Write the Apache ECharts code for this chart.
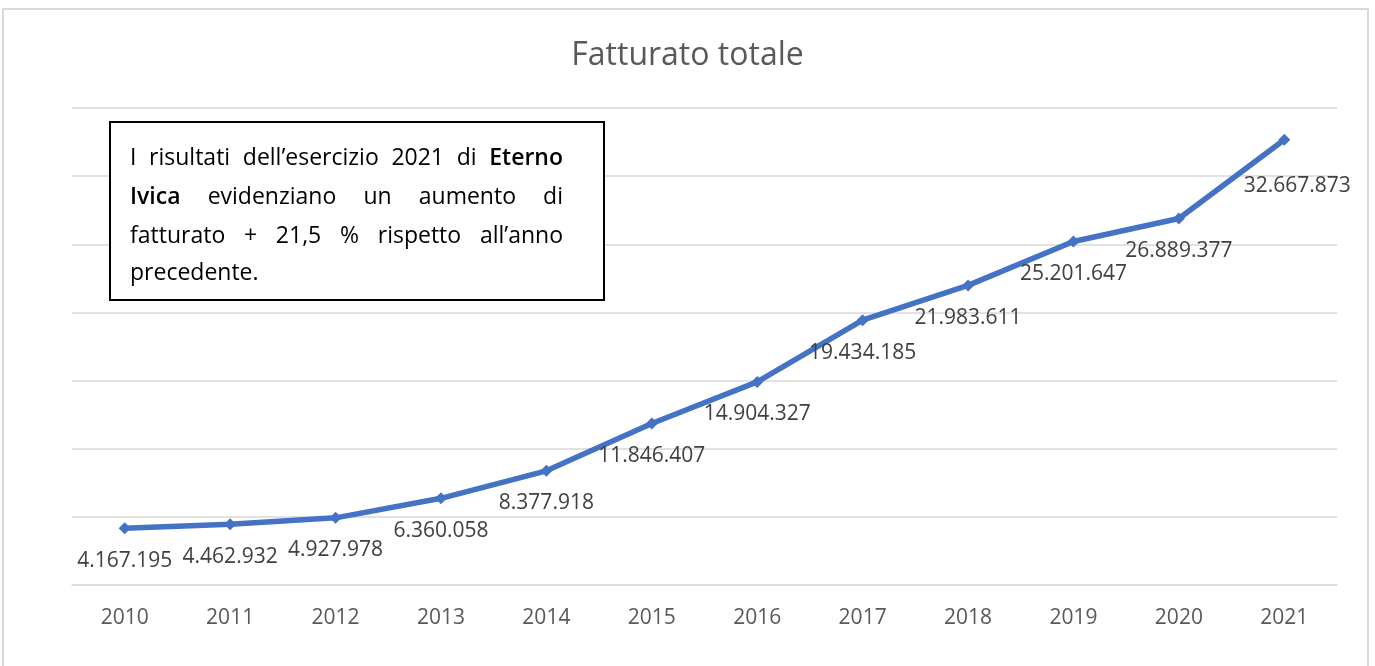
<!DOCTYPE html>
<html>
<head>
<meta charset="utf-8">
<script src="https://cdn.jsdelivr.net/npm/echarts@6/dist/echarts.min.js"></script>
<style>
html,body{margin:0;padding:0;background:#fff;}
#chart{width:1375px;height:666px;}
</style>
</head>
<body>
<div id="chart"></div>
<script>
const years = ['2010','2011','2012','2013','2014','2015','2016','2017','2018','2019','2020','2021'];
const revenue = [4167195, 4462932, 4927978, 6360058, 8377918, 11846407, 14904327, 19434185, 21983611, 25201647, 26889377, 32667873];
const titleText = 'Fatturato totale';
// note text: each line is a list of [word, bold]
const noteLines = [
  [['I',0],['risultati',0],['dell\u2019esercizio',0],['2021',0],['di',0],['Eterno',1]],
  [['Ivica',1],['evidenziano',0],['un',0],['aumento',0],['di',0]],
  [['fatturato',0],['+',0],['21,5',0],['%',0],['rispetto',0],['all\u2019anno',0]],
  [['precedente.',0]]
];

const fmt = v => String(v).replace(/\B(?=(\d{3})+(?!\d))/g, '.');

const chart = echarts.init(document.getElementById('chart'));

// build justified note text
const noteFont = 23;
const noteFamily = 'Open Sans';
const boxX = 110, boxY = 122, boxW = 494, boxH = 178;
const textLeft = 130, textRight = 563;
const middles = [158, 197, 236, 273];
const mctx = document.createElement('canvas').getContext('2d');
const noteEls = [];
noteLines.forEach((line, li) => {
  const widths = line.map(([w, b]) => {
    mctx.font = (b ? '600 ' : '') + noteFont + 'px "' + noteFamily + '"';
    return mctx.measureText(w).width;
  });
  const total = widths.reduce((a, b) => a + b, 0);
  const justify = li < noteLines.length - 1 && line.length > 1;
  const gap = justify ? (textRight - textLeft - total) / (line.length - 1) : noteFont * 0.25;
  let x = textLeft;
  line.forEach(([w, b], wi) => {
    noteEls.push({
      type: 'text', x: x, y: middles[li], z: 101,
      style: {
        text: w, fill: '#000',
        font: (b ? '600 ' : '') + noteFont + 'px "' + noteFamily + '"',
        textAlign: 'left', textVerticalAlign: 'middle'
      }
    });
    x += widths[wi] + gap;
  });
});

const seriesData = revenue.map((v, i) => {
  const item = { value: v };
  if (i === revenue.length - 1) item.label = { offset: [13, 14] };
  return item;
});

chart.setOption({
  backgroundColor: '#fff',
  animation: false,
  title: {
    text: titleText, left: 'center', top: 35,
    textStyle: { fontFamily: 'Open Sans', fontSize: 32, fontWeight: 'normal', color: '#595959' }
  },
  grid: { left: 72, right: 38, top: 108, bottom: 81 },
  xAxis: {
    type: 'category', data: years, boundaryGap: true,
    axisLine: { lineStyle: { color: '#d9d9d9', width: 1.5 } },
    axisTick: { show: false },
    axisLabel: { fontFamily: 'Open Sans', fontSize: 21, color: '#595959', margin: 23 }
  },
  yAxis: {
    type: 'value', min: 0, max: 35000000, interval: 5000000,
    axisLabel: { show: false }, axisLine: { show: false }, axisTick: { show: false },
    splitLine: { lineStyle: { color: '#d9d9d9', width: 1.5 } }
  },
  series: [{
    type: 'line', data: seriesData,
    lineStyle: { color: '#4472C4', width: 5.5 },
    itemStyle: { color: '#4472C4' },
    symbol: 'diamond', symbolSize: 12, showAllSymbol: true,
    label: {
      show: true, position: 'bottom', distance: 16,
      formatter: p => fmt(p.value),
      fontFamily: 'Open Sans', fontSize: 21, color: '#404040'
    }
  }],
  graphic: [
    { type: 'rect', shape: { x: 3, y: 9, width: 1365, height: 680 }, style: { fill: 'none', stroke: '#d9d9d9', lineWidth: 2 }, z: 100, silent: true },
    { type: 'rect', shape: { x: boxX, y: boxY, width: boxW, height: boxH }, style: { fill: '#fff', stroke: '#000', lineWidth: 2 }, z: 100 }
  ].concat(noteEls)
});
</script>
</body>
</html>
